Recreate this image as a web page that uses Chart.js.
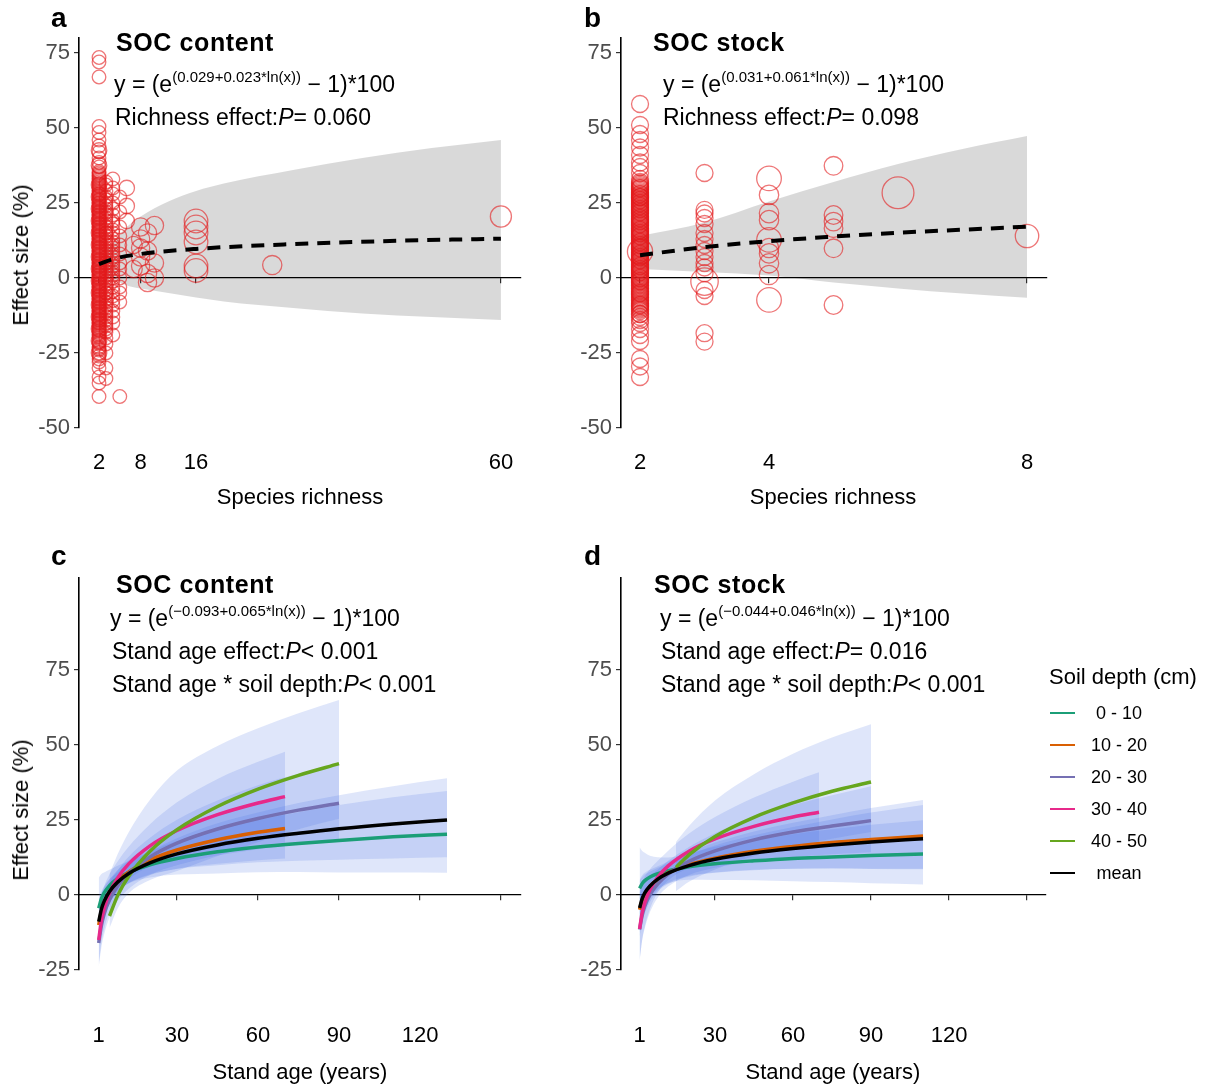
<!DOCTYPE html>
<html lang="en">
<head>
<meta charset="UTF-8" />
<title>SOC effect size: species richness and stand age</title>
<script src="https://cdn.jsdelivr.net/npm/chart.js"></script>
<style>
  body { margin: 0; background: #fff; color: #000; font-family: "Liberation Sans", Arial, sans-serif; }
  #fig { position: relative; width: 1207px; height: 1087px; overflow: hidden; }
  #fig canvas { position: absolute; }
  .t { position: absolute; white-space: nowrap; line-height: 1; font-size: 23px; }
  .t sup { font-size: 15px; vertical-align: 10px; line-height: 0; }
  .tag { font-size: 28px; font-weight: bold; }
  .head { font-size: 25px; font-weight: bold; letter-spacing: 0.6px; }
  .ax { position: absolute; white-space: nowrap; line-height: 1; font-size: 22px; transform: translate(-50%, -50%); }
  .ax.rot { transform: translate(-50%, -50%) rotate(-90deg); }
  .key { position: absolute; height: 2px; width: 25px; left: 1050px; }
  .keylab { position: absolute; line-height: 1; font-size: 18px; white-space: nowrap; transform: translate(-50%, -50%); left: 1119px; }
</style>
</head>
<body>
<div id="fig">
  <canvas id="cA" width="560" height="540" style="left:0;top:0"></canvas>
  <canvas id="cB" width="560" height="540" style="left:560px;top:0"></canvas>
  <canvas id="cC" width="560" height="547" style="left:0;top:540px"></canvas>
  <canvas id="cD" width="490" height="547" style="left:560px;top:540px"></canvas>

  <!-- panel a -->
  <div class="t tag" style="left:51px;top:4px">a</div>
  <div class="t head" style="left:116px;top:30px">SOC content</div>
  <div class="t" style="left:114px;top:73px">y = (e<sup>(0.029+0.023*ln(x))</sup> − 1)*100</div>
  <div class="t" style="left:115px;top:106px">Richness effect:<i>P</i>= 0.060</div>
  <div class="ax rot" style="left:21px;top:255px">Effect size (%)</div>
  <div class="ax" style="left:300px;top:497px">Species richness</div>

  <!-- panel b -->
  <div class="t tag" style="left:584px;top:4px">b</div>
  <div class="t head" style="left:653px;top:30px">SOC stock</div>
  <div class="t" style="left:663px;top:73px">y = (e<sup>(0.031+0.061*ln(x))</sup> − 1)*100</div>
  <div class="t" style="left:663px;top:106px">Richness effect:<i>P</i>= 0.098</div>
  <div class="ax" style="left:833px;top:497px">Species richness</div>

  <!-- panel c -->
  <div class="t tag" style="left:51px;top:542px">c</div>
  <div class="t head" style="left:116px;top:572px">SOC content</div>
  <div class="t" style="left:110px;top:607px">y = (e<sup>(−0.093+0.065*ln(x))</sup> − 1)*100</div>
  <div class="t" style="left:112px;top:640px">Stand age effect:<i>P</i>&lt; 0.001</div>
  <div class="t" style="left:112px;top:673px">Stand age * soil depth:<i>P</i>&lt; 0.001</div>
  <div class="ax rot" style="left:21px;top:810px">Effect size (%)</div>
  <div class="ax" style="left:300px;top:1072px">Stand age (years)</div>

  <!-- panel d -->
  <div class="t tag" style="left:584px;top:542px">d</div>
  <div class="t head" style="left:654px;top:572px">SOC stock</div>
  <div class="t" style="left:660px;top:607px">y = (e<sup>(−0.044+0.046*ln(x))</sup> − 1)*100</div>
  <div class="t" style="left:661px;top:640px">Stand age effect:<i>P</i>= 0.016</div>
  <div class="t" style="left:661px;top:673px">Stand age * soil depth:<i>P</i>&lt; 0.001</div>
  <div class="ax" style="left:833px;top:1072px">Stand age (years)</div>

  <div class="t" style="left:1049px;top:666px;font-size:22px">Soil depth (cm)</div>
  <div id="legend"></div>
</div>

<script>
// ---- richness panels (a, b): effect sizes grouped by richness level and weight ----
const richA = [2, 2, 2, 3, 3, 4, 4, 5, 6, 7, 8, 9, 10, 16, 27, 60];
const weightA = [1, 1, 1.3, 1, 1, 1, 1, 1, 1.3, 1.6, 1.8, 1.8, 1.8, 3, 2, 2.4];
const effectA = [
  [73.5, 72, 67, 50.5, 48.5, 46, 44, 42, 40, 38.5, 37, 35.5, 34, 33, 32, 31, 30.5, 30, 29, 28, 27, 26.5, 26, 25, 24,
   23.5, 23, 22, 21.5, 21, 20, 19.5, 19, 18, 17.5, 17, 16, 15.5, 15, 14, 13.5, 13, 12, 11.5, 11, 10, 9.5, 9, 8, 7.5,
   7, 6, 5.5, 5, 4, 3.5, 3, 2, 1.5, 1, 0, -0.5, -1, -2, -2.5, -3, -4, -4.5, -5, -6, -6.5, -7, -8, -8.5, -9, -10,
   -10.5, -11, -12, -12.5, -13, -14, -15, -16, -17, -18, -19, -20, -21, -22, -23, -24, -25, -26, -28, -30, -33, -35, -39.5],
  [35, 34.5, 33.5, 32.5, 31.5, 29.5, 28.5, 27.5, 25.5, 24.5, 22.5, 20.5, 18.5, 16.5, 14.5, 12.5, 10.5, 8.5, 6.5, 4.5,
   2.5, 0.5, -1.5, -3.5, -5.5, -7.5, -9.5, -11.5, -13.5, -14.5, -15.5, -16.5, -17.5, -18.5, -19.5, -21.5, -23.5, -27,
   28, 26, 24, 22, 20, 18, 16, 14, 12, 10, 8, 6, 4, 2, 0, -2, -4, -6, -8, -10, -12, -14, 25, 21, 17, 13, 9, 5, 1, -3,
   -7, -11, -15],
  [42.5, 37.5, 31, 27, 23, 19, 15, 11, 7, 3, -1, -5, -9, -13, -17, -21, -25],
  [32, 27, 24, 22, 20, 18, 16, 14, 12, 10, 8, 6, 5, 3, 2, 0, -2, -4, -6, -8, -10, -12, -14, -17, -20, -25, -30, -33.5],
  [31, 29, 26, 23, 21, 19, 17, 15, 13, 11, 9, 7, 4, 1, -1, -3, -5, -7, -9, -11, -13, -16, -18, -22, 25, 15, 5, -5, -15],
  [33, 28, 25, 21, 18, 15, 12, 10, 8, 6, 4, 2, 0, -3, -6, -9, -13, -19],
  [30, 23, 19, 16, 13, 11, 9, 7, 5, 3, 1, -1, -4.5, -7.5, -11, -15],
  [27, 22, 17, 14, 11, 8, 5, 3, 0, -3, -5, -8, -39.5],
  [30, 24, 19],
  [11, 3],
  [17, 13, 10, 7, 4],
  [15, 9, 1.5, -1.5],
  [17.5, 5, 0],
  [19, 17, 15, 12, 4, 2.5],
  [4.3],
  [20.5]
];
const fitXA = [2, 4, 8, 16, 30, 45, 60];
const fitA = [4.6, 6.3, 8.0, 9.7, 11.3, 12.4, 13.1];
const bandXA = [3, 6, 8, 12, 16, 20, 30, 40, 50, 60];
const bandLoA = [1, -2.5, -3.5, -5, -6.5, -7.8, -10, -11.8, -13, -14];
const bandHiA = [9, 17, 20.5, 25.5, 29, 31.5, 36, 40, 43.3, 46];

const richB = [2, 2, 2, 3, 3, 4, 4, 5, 6, 8];
const weightB = [1, 1, 2.2, 1, 2.6, 1.3, 2.1, 1.2, 3.5, 1.9];
const effectB = [
  [58, 51, 48, 46, 43.5, 41, 38.5, 37, 35, 33, 31.5, 30, 29, 28, 27.5, 27, 26, 25.5, 25, 24, 23, 22, 21, 20, 19, 18,
   17, 16, 15, 14, 13, 12.5, 12, 11, 10, 9, 8, 7, 6, 5, 4, 3, 2, 1, 0, -1, -2, -3, -4, -5, -6, -7, -8, -9, -10, -11,
   -12, -14, -15, -17, -19, -21, -27, -29.5, -33],
  [32, 31, 30.5, 29.5, 28.5, 27, 26.5, 25, 24.5, 23.5, 22.5, 21.5, 20.5, 19.5, 18.5, 17.5, 16.5, 15.5, 14.5, 13.5,
   11.5, 10.5, 9.5, 8.5, 7.5, 6.5, 5.5, 4.5, 3.5, 2.5, 1.5, 0.5, -0.5, -1.5, -2.5, -3.5, -4.5, -5.5, -6.5, -7.5, -8.5,
   -9.5, -10.5, -12, -13, 28, 26, 24, 20, 16, 12, 8, 4, 0, 22, 18, 14, 10, 6, 2, 30, 27, 23, 19, 15, 11, 7, 3, -1, -5, -9],
  [8.8],
  [35, 22.7, 21.5, 20, 18, 15, 13, 11, 9, 7, 5, 3.5, 1.6, -4, -6, -18.4, -21.2],
  [-1.2],
  [27.7, 21.6, 19.3, 10, 8.2, 4.9, 1],
  [33.2, 12.7, -7.3],
  [37.4, 21, 18.8, 16.6, 9.9, -9],
  [28.4],
  [14]
];
const fitXB = [2, 3, 4, 5, 6, 7, 8];
const fitB = [7.6, 10.3, 12.3, 13.8, 15.1, 16.1, 17.1];
const bandLoB = [3, 2, 0.8, -1.5, -3.5, -5.2, -6.6];
const bandHiB = [14, 18.5, 25.5, 32, 38, 43, 47.3];

// ---- stand age panels (c, d): fitted curves and confidence ribbons per soil depth ----
const depthNames = ['0 - 10', '10 - 20', '20 - 30', '30 - 40', '40 - 50', 'mean'];
const depthColors = ['#1b9e77', '#d95f02', '#7570b3', '#e7298a', '#66a61e', '#000000'];

const ageC = [
  [1, 2, 3, 5, 8, 12, 20, 30, 45, 60, 75, 90, 110, 130],
  [1, 2, 3, 5, 8, 12, 20, 30, 45, 60, 70],
  [1, 2, 3, 5, 8, 12, 20, 30, 45, 60, 75, 90],
  [1, 2, 3, 5, 8, 12, 20, 30, 45, 60, 70],
  [5, 8, 12, 20, 30, 45, 60, 75, 90],
  [1, 2, 3, 5, 8, 12, 20, 30, 45, 60, 75, 90, 110, 130]
];
const fitC = [
  [-4.4, -1.2, 0.7, 3.1, 5.5, 7.5, 10.1, 12.2, 14.4, 16.0, 17.2, 18.2, 19.4, 20.3],
  [-10, -5.4, -2.6, 1.1, 4.5, 7.6, 11.7, 15.0, 18.4, 20.9, 22.2],
  [-16, -10.1, -6.4, -1.6, 3.0, 7.2, 12.7, 17.3, 22.0, 25.5, 28.3, 30.6],
  [-15, -8.6, -4.6, 0.7, 5.7, 10.3, 16.4, 21.5, 26.8, 30.7, 32.8],
  [-7.0, -0.2, 6.1, 14.6, 21.8, 29.5, 35.3, 39.9, 43.8],
  [-8.9, -4.7, -2.1, 1.2, 4.3, 7.1, 10.7, 13.7, 16.7, 18.9, 20.6, 22.1, 23.7, 25.0]
];
const loC = [
  [-13.5, -8.8, -5.6, -1.9, 1.3, 3.8, 5.8, 6.8, 7.2, 7.6, 7.7, 7.5, 7.5, 7.4],
  [-16.1, -10.9, -7.3, -2.9, 0.9, 3.9, 6.7, 8.8, 10.4, 11.6, 12.2],
  [-24.0, -17.4, -13.2, -7.4, -2.0, 2.0, 6.7, 9.9, 13.2, 15.3, 17.2, 18.8],
  [-23.1, -16.0, -11.5, -5.2, 0.6, 5.0, 9.6, 12.7, 15.9, 18.2, 19.3],
  [-11.0, -4.5, 0.5, 5.0, 8.0, 13.0, 17.6, 21.9, 25.4],
  [-15.9, -10.2, -6.9, -2.8, 1.2, 3.9, 6.9, 8.7, 9.9, 10.9, 11.4, 11.8, 12.2, 12.6]
];
const hiC = [
  [5.7, 7.0, 7.5, 8.4, 9.8, 11.3, 14.6, 18.0, 22.1, 25.0, 27.6, 30.0, 32.6, 34.7],
  [-3.5, 0.5, 2.4, 5.2, 8.3, 11.5, 16.8, 21.5, 27.0, 30.9, 33.1],
  [-7.2, -2.1, 0.8, 4.4, 8.3, 12.7, 19.1, 25.1, 31.5, 36.6, 40.4, 43.6],
  [-6.1, -0.5, 2.8, 6.9, 11.2, 16.0, 23.6, 30.9, 38.7, 44.4, 47.8],
  [7.0, 13.6, 20.8, 31.8, 41.5, 49.7, 55.6, 60.6, 65.0],
  [-1.3, 1.2, 2.9, 5.3, 7.5, 10.4, 14.6, 18.9, 23.9, 27.5, 30.7, 33.3, 36.3, 38.9]
];

const ageD = [
  [1, 2, 3, 5, 8, 12, 20, 30, 45, 60, 75, 90, 110],
  [1, 2, 3, 5, 8, 12, 20, 30, 45, 60, 75, 90, 110],
  [1, 2, 3, 5, 8, 12, 20, 30, 45, 60, 75, 90],
  [1, 2, 3, 5, 8, 12, 20, 30, 45, 60, 70],
  [15, 20, 30, 45, 60, 75, 90],
  [1, 2, 3, 5, 8, 12, 20, 30, 45, 60, 75, 90, 110]
];
const fitD = [
  [2.2, 3.8, 4.8, 6.0, 7.1, 8.1, 9.4, 10.4, 11.4, 12.2, 12.7, 13.2, 13.7],
  [-4.9, -1.6, 0.4, 2.9, 5.3, 7.4, 10.1, 12.3, 14.6, 16.2, 17.5, 18.5, 19.7],
  [-11.5, -6.7, -3.7, 0.1, 3.7, 7.0, 11.2, 14.7, 18.4, 21.0, 23.0, 24.8],
  [-11.3, -5.9, -2.6, 1.8, 6.0, 9.7, 14.6, 18.7, 22.9, 26.0, 27.6],
  [9.2, 13.4, 19.5, 25.9, 30.7, 34.6, 37.7],
  [-4.3, -1.2, 0.7, 3.0, 5.3, 7.3, 9.8, 11.9, 14.0, 15.5, 16.7, 17.7, 18.8]
];
const loD = [
  [-9.9, -6.1, -3.8, -0.7, 1.9, 3.9, 5.1, 5.0, 4.9, 4.6, 4.3, 3.9, 3.5],
  [-13.9, -9.2, -6.2, -2.3, 1.2, 3.7, 6.1, 7.4, 8.3, 8.8, 9.0, 8.8, 8.8],
  [-21.5, -15.1, -11.1, -5.7, -0.8, 2.8, 6.7, 9.1, 11.2, 12.6, 13.6, 14.3],
  [-22.1, -14.8, -10.5, -4.6, 0.8, 4.9, 9.1, 11.8, 14.0, 15.1, 15.6],
  [1.3, 4.4, 8.5, 13.0, 16.2, 18.8, 21.0],
  [-12.5, -7.9, -5.2, -1.5, 1.7, 4.1, 6.4, 7.5, 8.4, 8.8, 8.8, 8.7, 8.6]
];
const hiD = [
  [15.9, 14.7, 14.1, 13.1, 12.6, 12.5, 13.9, 16.1, 18.3, 20.3, 21.9, 23.4, 24.9],
  [5.1, 6.6, 7.4, 8.4, 9.6, 11.2, 14.3, 17.5, 21.2, 24.1, 26.6, 29.0, 31.7],
  [-0.2, 2.6, 4.3, 6.3, 8.5, 11.4, 16.0, 20.6, 25.9, 30.0, 33.3, 36.3],
  [1.0, 4.0, 6.1, 8.6, 11.4, 14.8, 20.5, 26.0, 32.5, 37.8, 40.9],
  [17.7, 23.0, 31.5, 40.3, 47.1, 52.5, 56.9],
  [4.7, 6.0, 6.9, 7.8, 9.1, 10.6, 13.4, 16.5, 19.9, 22.7, 25.2, 27.5, 30.0]
];

// axis ticks
const yTicksTop = [-50, -25, 0, 25, 50, 75];
const yTicksBottom = [-25, 0, 25, 50, 75];
const xTicksA = [2, 8, 16, 60];
const xTicksB = [2, 4, 8];
const ageLabels = [1, 30, 60, 90, 120];
const ageMarks = [30, 60, 90, 120, 150];

Chart.defaults.font.family = '"Liberation Sans", Arial, sans-serif';

const pts = (xs, ys) => xs.map((x, i) => ({ x: x, y: ys[i] }));

function circles(xs, groups, weights, base) {
  return xs.map((x, i) => ({
    type: 'bubble',
    data: groups[i].map(y => ({ x: x, y: y, r: base * Math.sqrt(weights[i]) })),
    borderColor: 'rgba(226, 26, 28, 0.6)',
    backgroundColor: 'rgba(0, 0, 0, 0)',
    borderWidth: 1.3,
    hoverRadius: 0,
    order: 5
  }));
}

// lower edge + upper edge filled down to it
function ribbon(xs, lo, hi, color) {
  const common = { type: 'line', pointRadius: 0, borderWidth: 0, borderColor: 'rgba(0,0,0,0)',
                   cubicInterpolationMode: 'monotone', order: 10 };
  return [
    Object.assign({ data: pts(xs, lo), fill: false }, common),
    Object.assign({ data: pts(xs, hi), fill: '-1', backgroundColor: color }, common)
  ];
}

function curve(xs, ys, color, width, dash, order) {
  return { type: 'line', data: pts(xs, ys), borderColor: color, borderWidth: width, borderDash: dash,
           pointRadius: 0, fill: false, cubicInterpolationMode: 'monotone', order: order };
}

function yScale(min, max, ticks, width) {
  return {
    type: 'linear', position: 'left', min: min, max: max,
    afterBuildTicks: s => { s.ticks = ticks.map(v => ({ value: v })); },
    afterFit: s => { s.width = width; },
    border: { color: '#000', width: 1.6 },
    grid: { drawOnChartArea: false, drawTicks: true, tickLength: 5, color: '#333', lineWidth: 1.2 },
    ticks: { color: '#4d4d4d', font: { size: 22 }, padding: 4, callback: v => String(v) }
  };
}

// horizontal reference line at y = 0 carrying the tick marks
function zeroScale(min, max, ticks) {
  return {
    type: 'linear', position: { y: 0 }, min: min, max: max,
    afterBuildTicks: s => { s.ticks = ticks.map(v => ({ value: v })); },
    border: { color: '#000', width: 1.3 },
    grid: { drawOnChartArea: false, drawTicks: true, tickLength: 5, color: '#333', lineWidth: 1.2 },
    ticks: { display: false }
  };
}

// tick labels only, at the bottom of the panel
function labelScale(min, max, ticks, height, pad) {
  return {
    type: 'linear', axis: 'x', position: 'bottom', min: min, max: max,
    afterBuildTicks: s => { s.ticks = ticks.map(v => ({ value: v })); },
    afterFit: s => { s.height = height; },
    border: { display: false },
    grid: { display: false, drawTicks: false },
    ticks: { color: '#000', font: { size: 22 }, padding: pad, maxRotation: 0, autoSkip: false, callback: v => String(v) }
  };
}

function options(scales, padding) {
  return {
    responsive: false, animation: false, events: [],
    layout: { padding: padding },
    plugins: { legend: { display: false }, tooltip: { enabled: false } },
    scales: scales
  };
}

const grey = 'rgba(0, 0, 0, 0.15)';
const blue = 'rgba(65, 105, 225, 0.17)';

// a: SOC content vs species richness
new Chart(document.getElementById('cA'), {
  type: 'bubble',
  data: { datasets: [
    ...circles(richA, effectA, weightA, 6.8),
    ...ribbon(bandXA, bandLoA, bandHiA, grey),
    curve(fitXA, fitA, '#000', 4, [13, 9], 0)
  ] },
  options: options({
    x: zeroScale(-0.89, 62.9, xTicksA),
    xb: labelScale(-0.89, 62.9, xTicksA, 112, 22),
    y: yScale(-50, 80, yTicksTop, 79)
  }, { left: 0, top: 38, right: 39, bottom: 0 })
});

// b: SOC stock vs species richness
new Chart(document.getElementById('cB'), {
  type: 'bubble',
  data: { datasets: [
    ...circles(richB, effectB, weightB, 8.5),
    ...ribbon(fitXB, bandLoB, bandHiB, grey),
    curve(fitXB, fitB, '#000', 4, [13, 9], 0)
  ] },
  options: options({
    x: zeroScale(1.705, 8.31, xTicksB),
    xb: labelScale(1.705, 8.31, xTicksB, 112, 22),
    y: yScale(-50, 80, yTicksTop, 61)
  }, { left: 0, top: 38, right: 73, bottom: 0 })
});

function ageSets(ages, fits, los, his) {
  const bands = [], lines = [];
  ages.forEach((xs, i) => {
    bands.push(...ribbon(xs, los[i], his[i], blue));
    lines.push(curve(xs, fits[i], depthColors[i], 3.5, [], 6 - i));
  });
  return bands.concat(lines);
}

// c: SOC content vs stand age
new Chart(document.getElementById('cC'), {
  type: 'line',
  data: { datasets: ageSets(ageC, fitC, loC, hiC) },
  options: options({
    x: zeroScale(-6.3, 157.4, ageMarks),
    xb: labelScale(-6.3, 157.4, ageLabels, 117, 53),
    y: yScale(-25, 105.7, yTicksBottom, 79)
  }, { left: 0, top: 38, right: 39, bottom: 0 })
});

// d: SOC stock vs stand age
new Chart(document.getElementById('cD'), {
  type: 'line',
  data: { datasets: ageSets(ageD, fitD, loD, hiD) },
  options: options({
    x: zeroScale(-6.15, 157.3, ageMarks),
    xb: labelScale(-6.15, 157.3, ageLabels, 117, 53),
    y: yScale(-25, 105.7, yTicksBottom, 61)
  }, { left: 0, top: 38, right: 4, bottom: 0 })
});

// soil depth key
const legend = document.getElementById('legend');
depthNames.forEach((name, i) => {
  const cy = 713 + 32 * i;
  const sw = document.createElement('div');
  sw.className = 'key';
  sw.style.top = (cy - 1) + 'px';
  sw.style.background = depthColors[i];
  const lab = document.createElement('div');
  lab.className = 'keylab';
  lab.style.top = cy + 'px';
  lab.textContent = name;
  legend.appendChild(sw);
  legend.appendChild(lab);
});
</script>
</body>
</html>
